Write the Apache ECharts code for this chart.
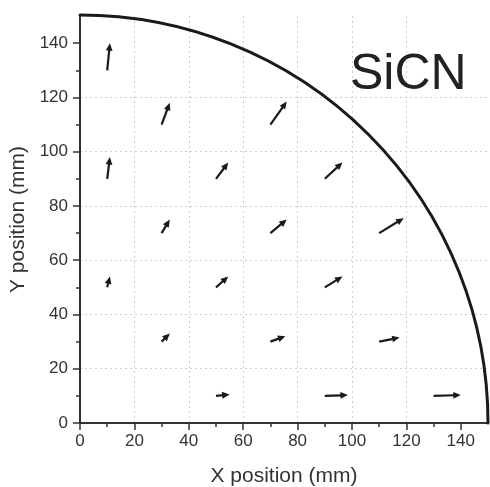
<!DOCTYPE html>
<html>
<head>
<meta charset="utf-8">
<script src="https://cdn.jsdelivr.net/npm/echarts@6/dist/echarts.min.js"></script>
<style>
  html, body { margin: 0; padding: 0; background: #fff; }
  #chart { width: 490px; height: 487px; }
</style>
</head>
<body>
<div id="chart"></div>
<script>
// axis ticks (mm)
const majorTicks = [0, 20, 40, 60, 80, 100, 120, 140]
const minorTicks = [10, 30, 50, 70, 90, 110, 130]
const axisMax = 150
const waferRadius = 150

// arrow tails and heads (mm)
const tailX = [10, 30, 70, 10, 50, 90, 30, 70, 110, 10, 50, 90, 30, 70, 110, 50, 90, 130]
const tailY = [130, 110, 110, 90, 90, 90, 70, 70, 70, 50, 50, 50, 30, 30, 30, 10, 10, 10]
const headX = [11, 33, 76, 11, 54.5, 96.5, 33, 76, 119, 11, 54.5, 96.5, 33, 75.5, 117.5, 55, 98.5, 140]
const headY = [140, 118, 118.5, 98, 96, 96, 75, 75, 75.5, 54, 54, 54, 33, 32, 31.5, 10.5, 10.3, 10.3]

const FONT = '"Liberation Sans", Arial, Helvetica, sans-serif'
const INK = '#1a1a1a'

const arrowData = tailX.map((x, i) => [x, tailY[i], headX[i], headY[i]])

// arrow: shaft + filled triangular head
const renderArrow = (params, api) => {
  const p0 = api.coord([api.value(0), api.value(1)])
  const p1 = api.coord([api.value(2), api.value(3)])
  const dx = p1[0] - p0[0]
  const dy = p1[1] - p0[1]
  const len = Math.sqrt(dx * dx + dy * dy) || 1
  const ux = dx / len
  const uy = dy / len
  const headLen = 7.5
  const headHalf = 3.4
  const bx = p1[0] - ux * headLen
  const by = p1[1] - uy * headLen
  return {
    type: 'group',
    children: [
      {
        type: 'line',
        shape: { x1: p0[0], y1: p0[1], x2: bx + ux, y2: by + uy },
        style: { stroke: INK, lineWidth: 2.2 },
      },
      {
        type: 'polygon',
        shape: {
          points: [
            [p1[0], p1[1]],
            [bx - uy * headHalf, by + ux * headHalf],
            [bx + uy * headHalf, by - ux * headHalf],
          ],
        },
        style: { fill: INK },
      },
    ],
  }
}

// wafer edge: quarter circle centred on the origin
const renderEdge = (params, api) => {
  const c = api.coord([0, 0])
  const r = api.size([waferRadius, waferRadius])
  return {
    type: 'arc',
    shape: { cx: c[0], cy: c[1], r: r[0], startAngle: -Math.PI / 2, endAngle: 0, clockwise: true },
    style: { stroke: INK, lineWidth: 3, fill: null, lineCap: 'round' },
  }
}

const mainAxis = (name, isY) => ({
  type: 'value',
  min: 0,
  max: axisMax,
  interval: 20,
  name,
  nameLocation: 'middle',
  nameGap: isY ? 42 : 43,
  nameRotate: isY ? 90 : 0,
  nameTextStyle: { fontFamily: FONT, fontSize: 21, color: '#333' },
  axisLine: { show: true, onZero: false, lineStyle: { color: '#333', width: 2 } },
  axisTick: { show: true, inside: false, length: 7, customValues: majorTicks, lineStyle: { color: '#333', width: 1.5 } },
  axisLabel: {
    show: true,
    customValues: majorTicks,
    margin: isY ? 12 : 10,
    fontFamily: FONT,
    fontSize: 17,
    color: '#333',
  },
  splitLine: {
    show: true,
    showMinLine: false,
    showMaxLine: false,
    lineStyle: { color: '#cfcfcf', type: [2, 3], width: 1 },
  },
})

const minorAxis = (isY) => ({
  type: 'value',
  min: 0,
  max: axisMax,
  interval: 10,
  position: isY ? 'left' : 'bottom',
  offset: 0,
  axisLine: { show: false },
  axisTick: { show: true, inside: false, length: 4, customValues: minorTicks, lineStyle: { color: '#333', width: 1.5 } },
  axisLabel: { show: false },
  splitLine: { show: false },
})

const chart = echarts.init(document.getElementById('chart'))

chart.setOption({
  backgroundColor: '#fff',
  animation: false,
  title: {
    text: 'SiCN',
    left: 345,
    top: 45,
    textStyle: { fontFamily: FONT, fontSize: 50, fontWeight: 'normal', color: '#222' },
  },
  grid: { left: 80, right: 2, top: 16, bottom: 64, containLabel: false, outerBoundsMode: 'none' },
  xAxis: [
    { ...mainAxis('X position (mm)', false), position: 'bottom' },
    minorAxis(false),
  ],
  yAxis: [
    { ...mainAxis('Y position (mm)', true), position: 'left' },
    minorAxis(true),
  ],
  series: [
    {
      type: 'custom',
      renderItem: renderArrow,
      data: arrowData,
      encode: { x: [0, 2], y: [1, 3] },
      z: 3,
    },
    {
      type: 'custom',
      renderItem: renderEdge,
      data: [[0, 0]],
      clip: false,
      z: 4,
    },
  ],
})
</script>
</body>
</html>
